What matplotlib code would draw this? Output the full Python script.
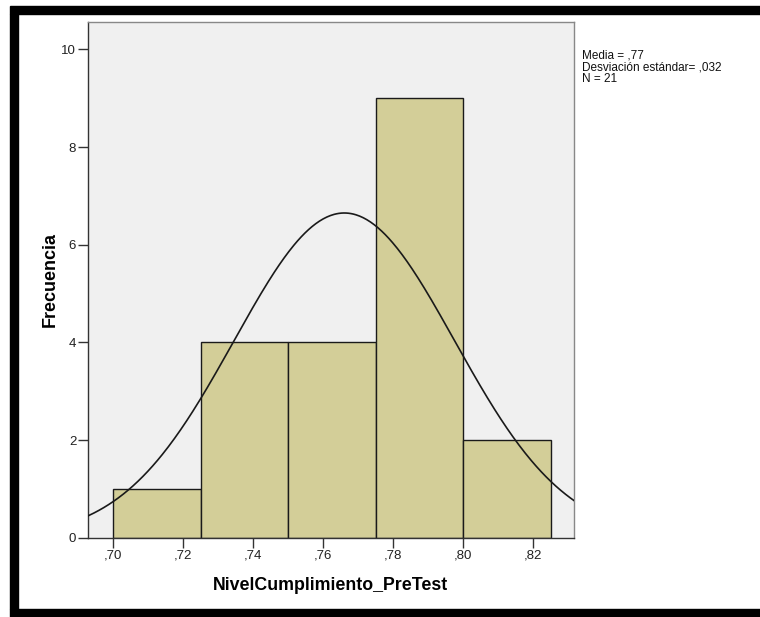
import numpy as np
import matplotlib
matplotlib.use("Agg")
import matplotlib.pyplot as plt
from matplotlib.patches import Rectangle

# Data
bin_edges = [0.700, 0.725, 0.750, 0.775, 0.800, 0.825]
counts = [1, 4, 4, 9, 2]
mean_val = 0.766
sd_val = 0.0315
n_val = 21
xtick_vals = [0.70, 0.72, 0.74, 0.76, 0.78, 0.80, 0.82]
xtick_labels = [",70", ",72", ",74", ",76", ",78", ",80", ",82"]
ytick_vals = [0, 2, 4, 6, 8, 10]
stats_text = "Media = ,77\nDesviación estándar= ,032\nN = 21"

plt.rcParams['font.family'] = ['Liberation Sans', 'DejaVu Sans']

W, H = 760, 617
fig = plt.figure(figsize=(W / 100, H / 100), dpi=100)
fig.patch.set_facecolor('white')

def px(x0, y0, x1, y1):
    return [x0 / W, 1 - y1 / H, (x1 - x0) / W, (y1 - y0) / H]

ax = fig.add_axes(px(88, 22, 574, 537.7))
ax.set_facecolor('#F0F0F0')

widths = np.diff(bin_edges)
ax.bar(bin_edges[:-1], counts, width=widths, align='edge',
       color='#D3CE98', edgecolor='#1a1a1a', linewidth=1.0, zorder=2)

xmin, xmax = 0.6928, 0.8316
xs = np.linspace(xmin, xmax, 400)
bw = widths[0]
ys = n_val * bw / (sd_val * np.sqrt(2 * np.pi)) * np.exp(-0.5 * ((xs - mean_val) / sd_val) ** 2)
ax.plot(xs, ys, color='#1a1a1a', linewidth=1.2, zorder=3)

ax.set_xlim(xmin, xmax)
ax.set_ylim(0, 10.56)
ax.set_xticks(xtick_vals)
ax.set_xticklabels(xtick_labels)
ax.set_yticks(ytick_vals)
ax.tick_params(axis='both', direction='out', length=7, width=1.0, color='#333333',
               labelsize=9.5, labelcolor='#222222', pad=1.5)
for s in ax.spines.values():
    s.set_color('#333333')
    s.set_linewidth(1.0)
ax.spines['top'].set_color('#888888')
ax.spines['right'].set_color('#888888')

ax.set_xlabel("NivelCumplimiento_PreTest", fontsize=12.8, fontweight='bold', labelpad=11)
ax.set_ylabel("Frecuencia", fontsize=13, fontweight='bold', labelpad=2)

fig.text(582 / W, 1 - 49 / H, stats_text, fontsize=8.5, va='top', ha='left',
         color='#111111', linespacing=1.0)

# Black frame
fig.patches.append(Rectangle((10 / W, 1 - 14 / H), 1 - 10 / W, 8 / H,
                             transform=fig.transFigure, color='black', zorder=10))
fig.patches.append(Rectangle((10 / W, 1 - 609 / H), 8 / W, 595 / H,
                             transform=fig.transFigure, color='black', zorder=10))
fig.patches.append(Rectangle((10 / W, 0), 1 - 10 / W, 8 / H,
                             transform=fig.transFigure, color='black', zorder=10))

fig.savefig("out.png", dpi=100)
